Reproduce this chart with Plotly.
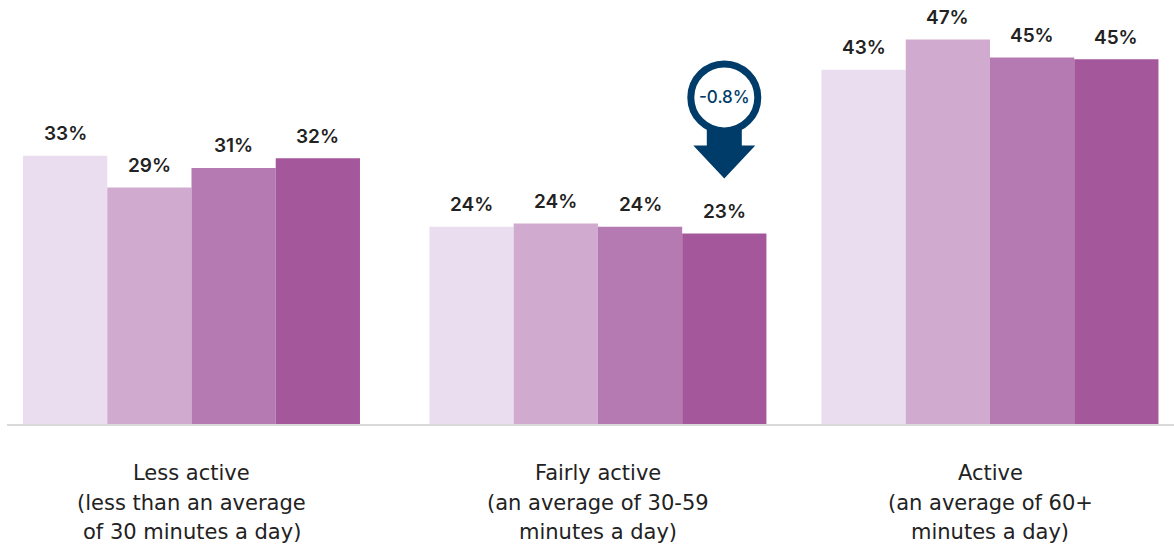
import plotly.graph_objects as go

# Activity levels and the share of people in each, for four consecutive survey years
categories = [
    "Less active<br>(less than an average<br>of 30 minutes a day)",
    "Fairly active<br>(an average of 30-59<br>minutes a day)",
    "Active<br>(an average of 60+<br>minutes a day)",
]
series_names = ["Year 1", "Year 2", "Year 3", "Year 4"]
values = [
    [32.8, 24.1, 43.3],   # Year 1
    [28.9, 24.5, 47.0],   # Year 2
    [31.3, 24.1, 44.8],   # Year 3
    [32.5, 23.3, 44.6],   # Year 4
]
change_label = "-0.8%"

colors = ["#EADDEF", "#D1AAD0", "#B47AB1", "#A5579B"]
text_color = "#222222"
navy = "#003C69"
value_font = "Inter, Lato, sans-serif"
category_font = "DejaVu Sans, sans-serif"

# Horizontal placement of each group on the numeric x axis
group_pos = [0, 1.018, 2]

bargap = 0.156
n_series = len(series_names)
bar_w = (1 - bargap) / n_series

fig = go.Figure()
for i, (name, vals) in enumerate(zip(series_names, values)):
    fig.add_trace(go.Bar(
        x=group_pos, y=vals, name=name, width=bar_w,
        offset=(i - n_series / 2) * bar_w,
        marker=dict(color=colors[i], line=dict(width=0)),
        hoverinfo="skip",
    ))

# Percentage labels above each bar
annotations = []
for i, vals in enumerate(values):
    for g, v in enumerate(vals):
        annotations.append(dict(
            x=group_pos[g] + (i - (n_series - 1) / 2) * bar_w, y=v, xref="x", yref="y",
            text=f"{v:.0f}%", showarrow=False, yanchor="middle", yshift=22,
            font=dict(family=value_font, size=19, color=text_color, weight=600),
        ))

# Category labels, one annotation per line
line_offsets = [-49, -78.5, -108]
for g, cat in enumerate(categories):
    for k, line in enumerate(cat.split("<br>")):
        annotations.append(dict(
            x=group_pos[g], y=0, xref="x", yref="paper", text=line, showarrow=False,
            yanchor="middle", yshift=line_offsets[k],
            font=dict(family=category_font, size=21, color=text_color),
        ))

# Change badge above the last bar of the middle group
badge_x = group_pos[1] + (n_series - 1 - (n_series - 1) / 2) * bar_w
badge_y = values[-1][1]
annotations.append(dict(
    x=badge_x, y=badge_y, xref="x", yref="y", text=change_label, showarrow=False,
    yanchor="middle", yshift=136,
    font=dict(family=value_font, size=17, color=navy, weight=500),
))

shapes = [
    dict(type="path", xref="x", yref="y", xsizemode="pixel", ysizemode="pixel",
         xanchor=badge_x, yanchor=badge_y,
         path="M -17.5 110 L 17.5 110 L 17.5 88 L 31 88 L 0 55 L -31 88 L -17.5 88 Z",
         fillcolor=navy, line=dict(width=0)),
    dict(type="circle", xref="x", yref="y", xsizemode="pixel", ysizemode="pixel",
         xanchor=badge_x, yanchor=badge_y, x0=-33.5, x1=33.5, y0=102.5, y1=169.5,
         fillcolor="white", line=dict(color=navy, width=7)),
]

px_per_unit = 399.25
left_px = 191.5 - 7
x0 = -left_px / px_per_unit
x1 = x0 + 1167 / px_per_unit

fig.update_layout(
    width=1174, height=546,
    margin=dict(l=7, r=0, t=0, b=122),
    paper_bgcolor="white", plot_bgcolor="white",
    barmode="overlay",
    showlegend=False,
    xaxis=dict(range=[x0, x1], showticklabels=False, showgrid=False, zeroline=False,
               showline=True, linecolor="#D9D9D9", linewidth=2, ticks=""),
    yaxis=dict(range=[0, 424 / 8.18], visible=False, showgrid=False, zeroline=False),
    annotations=annotations,
    shapes=shapes,
)

fig.write_html("out.html")
